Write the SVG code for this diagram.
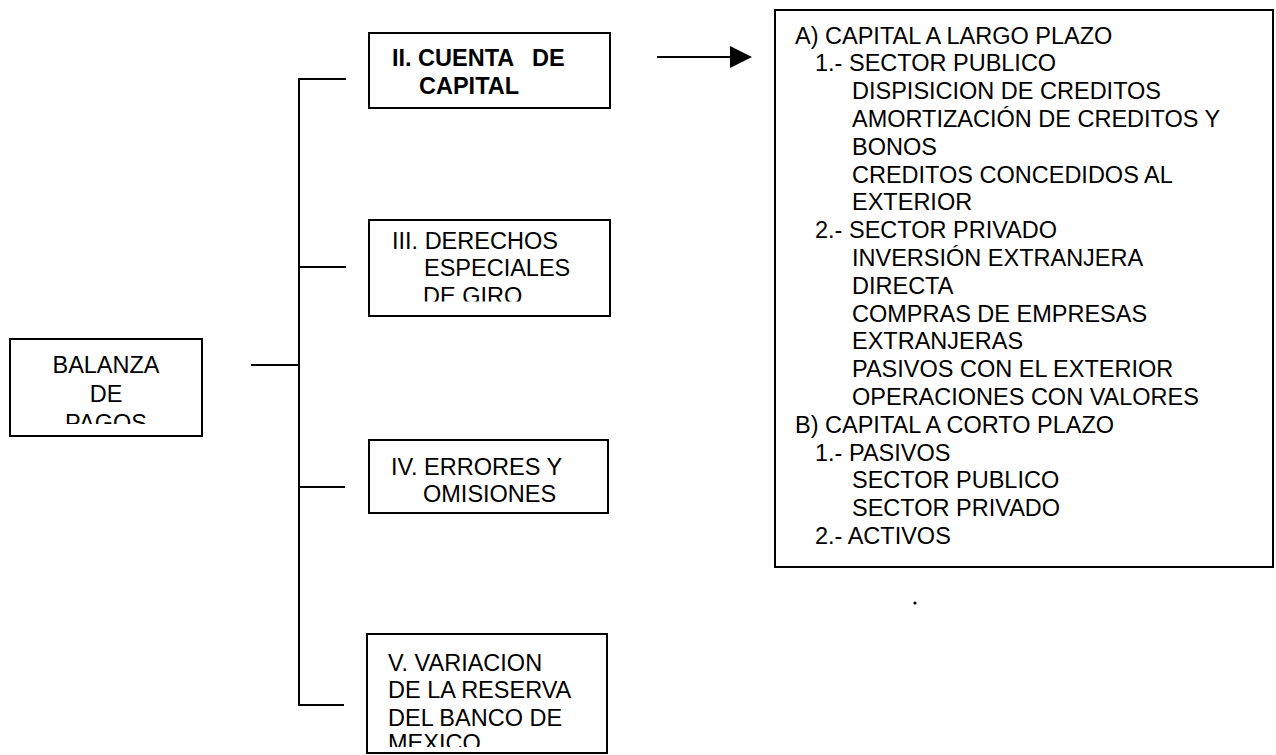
<svg xmlns="http://www.w3.org/2000/svg" width="1276" height="755" viewBox="0 0 1276 755">
<style>
.box{fill:#fff;stroke:#000;stroke-width:2}
.t{font-family:"Liberation Sans",Arial,sans-serif;font-size:23.5px;fill:#000}
.b{font-weight:bold}
.c{stroke:#000;stroke-width:2;fill:none}
</style>
<defs>
<clipPath id="clipIII"><rect x="370" y="221" width="239" height="80.5"/></clipPath>
<clipPath id="clipBal"><rect x="11" y="340" width="190" height="84"/></clipPath>
<clipPath id="clipV"><rect x="368" y="635" width="238" height="112"/></clipPath>
</defs>
<rect width="1276" height="755" fill="#fff"/>
<g id="connectors">
<line class="c" x1="299" y1="78" x2="299" y2="706"/>
<line class="c" x1="298" y1="79" x2="346" y2="79"/>
<line class="c" x1="298" y1="267" x2="346" y2="267"/>
<line class="c" x1="251" y1="365" x2="299" y2="365"/>
<line class="c" x1="298" y1="487" x2="345" y2="487"/>
<line class="c" x1="298" y1="705" x2="344" y2="705"/>
<line class="c" x1="657" y1="57" x2="734" y2="57"/>
<polygon points="730,46 752,57 730,68" fill="#000"/>
</g>
<g id="node-balanza">
<rect class="box" x="10" y="339" width="192" height="97"/>
<text class="t" text-anchor="middle" clip-path="url(#clipBal)"><tspan x="106" y="372.5">BALANZA</tspan><tspan x="106" y="401.5">DE</tspan><tspan x="106" y="430.5">PAGOS</tspan></text>
</g>
<g id="node-cuenta-capital">
<rect class="box" x="369" y="33" width="241" height="75"/>
<text class="t b"><tspan x="392" y="65.5">II. CUENTA</tspan><tspan x="532" y="65.5">DE</tspan><tspan x="419" y="93.5">CAPITAL</tspan></text>
</g>
<g id="node-derechos">
<rect class="box" x="369" y="220" width="241" height="96"/>
<text class="t" clip-path="url(#clipIII)"><tspan x="392" y="248.5">III. DERECHOS</tspan><tspan x="424" y="275.5">ESPECIALES</tspan><tspan x="423" y="303.5">DE GIRO</tspan></text>
</g>
<g id="node-errores">
<rect class="box" x="369" y="440" width="239" height="73"/>
<text class="t"><tspan x="391" y="474.5">IV. ERRORES Y</tspan><tspan x="423" y="501.5">OMISIONES</tspan></text>
</g>
<g id="node-variacion">
<rect class="box" x="367" y="634" width="240" height="119"/>
<text class="t" clip-path="url(#clipV)"><tspan x="388" y="670.5">V. VARIACION</tspan><tspan x="388" y="697.5">DE LA RESERVA</tspan><tspan x="388" y="725.5">DEL BANCO DE</tspan><tspan x="388" y="751">MEXICO</tspan></text>
</g>
<g id="node-detalle">
<rect class="box" x="775" y="10" width="498" height="557"/>
<text class="t">
<tspan x="795" y="43.5">A) CAPITAL A LARGO PLAZO</tspan>
<tspan x="815" y="71.3">1.- SECTOR PUBLICO</tspan>
<tspan x="852" y="99.1">DISPISICION DE CREDITOS</tspan>
<tspan x="852" y="126.9">AMORTIZACIÓN DE CREDITOS Y</tspan>
<tspan x="852" y="154.7">BONOS</tspan>
<tspan x="852" y="182.5">CREDITOS CONCEDIDOS AL</tspan>
<tspan x="852" y="210.3">EXTERIOR</tspan>
<tspan x="815" y="238.1">2.- SECTOR PRIVADO</tspan>
<tspan x="852" y="265.9">INVERSIÓN EXTRANJERA</tspan>
<tspan x="852" y="293.7">DIRECTA</tspan>
<tspan x="852" y="321.5">COMPRAS DE EMPRESAS</tspan>
<tspan x="852" y="349.3">EXTRANJERAS</tspan>
<tspan x="852" y="377.1">PASIVOS CON EL EXTERIOR</tspan>
<tspan x="852" y="404.9">OPERACIONES CON VALORES</tspan>
<tspan x="795" y="432.7">B) CAPITAL A CORTO PLAZO</tspan>
<tspan x="815" y="460.5">1.- PASIVOS</tspan>
<tspan x="852" y="488.3">SECTOR PUBLICO</tspan>
<tspan x="852" y="516.1">SECTOR PRIVADO</tspan>
<tspan x="815" y="543.9">2.- ACTIVOS</tspan>
</text>
</g>
<circle cx="915" cy="603" r="1.6" fill="#000"/>
</svg>
